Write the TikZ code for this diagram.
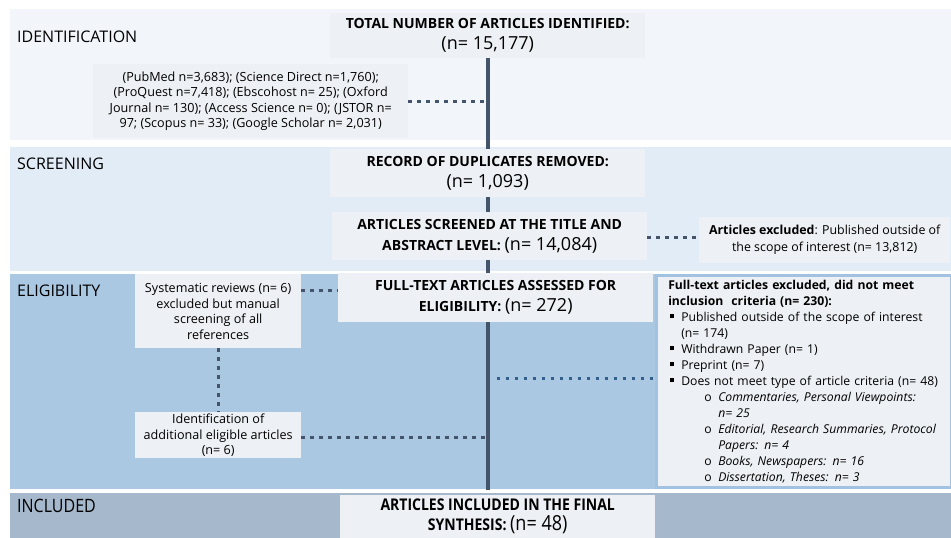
\documentclass[tikz,border=0pt]{standalone}
\usepackage{fontspec}
\usepackage{graphicx}
\setmainfont{Open Sans}
\usetikzlibrary{positioning}

\definecolor{bandA}{HTML}{F2F6FA}
\definecolor{bandB}{HTML}{E2ECF6}
\definecolor{bandC}{HTML}{ABC8E3}
\definecolor{bandD}{HTML}{A6B8CB}
\definecolor{boxgray}{HTML}{EDF0F4}
\definecolor{linegray}{HTML}{44546A}
\definecolor{dotblue}{HTML}{335F8C}
\definecolor{rimblue}{HTML}{A2C2E2}

\newcommand{\nbig}[1]{{\fontsize{18}{22}\selectfont\mdseries #1}}
\newcommand{\bul}{\hspace*{2pt}\makebox[11pt][l]{\rule[0.22em]{0.34em}{0.34em}}}
\newcommand{\subl}{\hspace*{36pt}\makebox[14pt][l]{o}}
\newcommand{\tall}[1]{\scalebox{1}[1.15]{#1}}

\begin{document}
\begin{tikzpicture}[x=1pt,y=-1pt,
    box/.style={fill=boxgray,inner sep=0pt,anchor=north west,align=center},
    head/.style={box,font=\fontsize{14}{21}\selectfont\bfseries},
    note/.style={box,font=\fontsize{12.6}{15.5}\selectfont},
    phase/.style={anchor=west,inner sep=0pt,font=\fontsize{16}{18}\selectfont},
    dots/.style={draw=linegray,line width=3.4pt,dash pattern=on 3.4pt off 5.6pt},
    spine/.style={draw=linegray,line width=4pt}]
  \useasboundingbox (0,0) rectangle (951,538);

  % phase bands
  \fill[bandA] (10,9) rectangle (951,140);
  \fill[bandB] (10,147) rectangle (951,271);
  \fill[bandC] (10,274) rectangle (951,489);
  \fill[bandD] (10,493) rectangle (951,538);

  \node[phase] (pid)  at (17,37)  {IDENTIFICATION};
  \node[phase] (pscr) at (17,164) {SCREENING};
  \node[phase] (pel)  at (17,291) {ELIGIBILITY};
  \node[phase] (pinc) at (17,506) {\tall{INCLUDED}};

  % main line
  \coordinate (top) at (487.5,58);
  \coordinate (bot) at (487.5,490);
  \draw[spine] (top) -- (bot);

  % boxes on the main line
  \node[head,minimum width=315,minimum height=45] (total) at (330,13)
    {TOTAL NUMBER OF ARTICLES IDENTIFIED:\\\nbig{(n= 15,177)}};
  \node[head,minimum width=315,minimum height=48] (dup) at (330,149)
    {RECORD OF DUPLICATES REMOVED:\\\nbig{(n= 1,093)}};
  \node[head,minimum width=315,minimum height=48] (scr) at (332,212)
    {ARTICLES SCREENED AT THE TITLE AND\\ABSTRACT LEVEL: \nbig{(n= 14,084)}};
  \node[head,minimum width=315,minimum height=49] (full) at (338,273)
    {FULL-TEXT ARTICLES ASSESSED FOR\\ELIGIBILITY: \nbig{(n= 272)}};
  \node[head,minimum width=315,minimum height=43,
        font=\fontsize{14}{20}\selectfont\bfseries] (incl) at (340,495)
    {\tall{ARTICLES INCLUDED IN THE FINAL}\\\tall{SYNTHESIS: \nbig{(n= 48)}}};

  % side boxes
  \node[note,minimum width=315,minimum height=74] (src) at (93,64)
    {(PubMed n=3,683); (Science Direct n=1,760);\\
     (ProQuest n=7,418); (Ebscohost n= 25); (Oxford\\
     Journal n= 130); (Access Science n= 0); (JSTOR n=\\
     97; (Scopus n= 33); (Google Scholar n= 2,031)};
  \node[note,minimum width=251,minimum height=46,
        font=\fontsize{12.4}{17}\selectfont] (exc) at (699,217)
    {\textbf{Articles excluded}: Published outside of\\
     the scope of interest (n= 13,812)};
  \node[note,minimum width=166,minimum height=74] (sys) at (135,274)
    {Systematic reviews (n= 6)\\excluded but manual\\
     screening of all\\references};
  \node[note,minimum width=166,minimum height=46] (add) at (135,412)
    {Identification of\\additional eligible articles\\(n= 6)};
  \node[note,draw=rimblue,line width=2.5pt,align=left,
        text width=271,inner xsep=12pt,minimum height=212,
        font=\fontsize{12.2}{16}\selectfont] (ftex) at (655,274)
    {\textbf{Full-text articles excluded, did not meet}\\
     \textbf{inclusion\ \ criteria (n= 230):}\\
     \bul Published outside of the scope of interest\\
     \hspace*{13pt}(n= 174)\\
     \bul Withdrawn Paper (n= 1)\\
     \bul Preprint (n= 7)\\
     \bul Does not meet type of article criteria (n= 48)\\
     \subl\textit{Commentaries, Personal Viewpoints:}\\
     \hspace*{50pt}\textit{n= 25}\\
     \subl\textit{Editorial, Research Summaries, Protocol}\\
     \hspace*{50pt}\textit{Papers: n= 4}\\
     \subl\textit{Books, Newspapers: n= 16}\\
     \subl\textit{Dissertation, Theses: n= 3}};

  % dotted links
  \draw[dots] (src.east) -- (src.east -| top);
  \draw[dots] ([yshift=-1pt]scr.east) -- ([yshift=-1pt]scr.east -| exc.west);
  \draw[dots] ([yshift=21pt]sys.east) -- ([yshift=21pt]sys.east -| full.west);
  \draw[dots] (sys.south) -- (add.north);
  \draw[dots] ([yshift=-2pt]add.east) -- ([yshift=-2pt,xshift=-2pt]add.east -| top);
  \draw[dots,draw=dotblue] ([xshift=9pt,yshift=3pt]ftex.west -| top) -- ([yshift=3pt]ftex.west);
\end{tikzpicture}
\end{document}
